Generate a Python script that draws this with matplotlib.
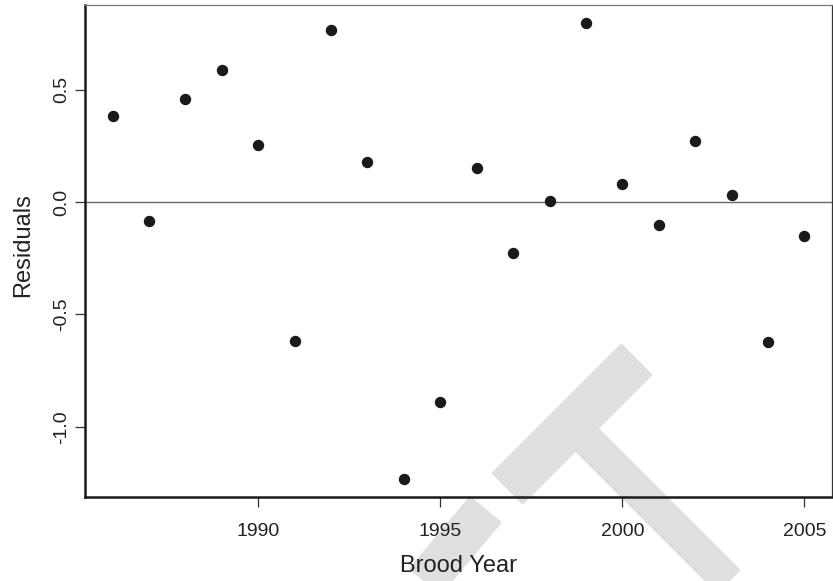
import matplotlib
matplotlib.use("Agg")
import matplotlib.pyplot as plt
from matplotlib.lines import Line2D

# Data
years = [1986, 1987, 1988, 1989, 1990, 1991, 1992, 1993, 1994, 1995,
         1996, 1997, 1998, 1999, 2000, 2001, 2002, 2003, 2004, 2005]
residuals = [0.386, -0.083, 0.460, 0.588, 0.253, -0.619, 0.769, 0.178, -1.232, -0.888,
             0.150, -0.228, 0.003, 0.797, 0.079, -0.103, 0.272, 0.033, -0.625, -0.149]
xticks = [1990, 1995, 2000, 2005]
yticks = [-1.0, -0.5, 0.0, 0.5]
ytick_labels = ["-1.0", "-0.5", "0.0", "0.5"]

plt.rcParams['font.family'] = ['Liberation Sans', 'DejaVu Sans']

W, H = 833, 581
fig = plt.figure(figsize=(W / 100, H / 100), dpi=100)

# Light gray watermark behind the plot (figure pixel coords -> fraction)
wm = "#dedfe1"
def px(x, y):
    return x / W, 1 - y / H
for (x0, y0), (x1, y1), lw in [((507, 489), (637, 359), 32),
                               ((566, 419), (745, 598), 24),
                               ((486, 509), (413, 596), 30)]:
    a, b = px(x0, y0)
    c, d = px(x1, y1)
    fig.add_artist(Line2D([a, c], [b, d], transform=fig.transFigure,
                          color=wm, lw=lw, solid_capstyle='butt', zorder=-5))

ax = fig.add_axes([85 / W, 1 - 497 / H, (832 - 85) / W, (497 - 5) / H])
ax.set_facecolor('none')
ax.set_zorder(1)

ax.plot(years, residuals, 'o', color='#1a1a1a', markersize=7.2, zorder=3)
ax.axhline(0, color='#6a6a6a', lw=1.0, zorder=2)

pad_x = (max(years) - min(years)) * 0.04
pad_y = (max(residuals) - min(residuals)) * 0.04
ax.set_xlim(min(years) - pad_x, max(years) + pad_x)
ax.set_ylim(min(residuals) - pad_y, max(residuals) + pad_y)

ax.set_xticks(xticks)
ax.set_xticklabels([str(t) for t in xticks])
ax.set_yticks(yticks)
ax.set_yticklabels(ytick_labels, rotation=90, va='center')

ax.tick_params(axis='both', length=7, width=0.9, color='#333333',
               labelsize=14, labelcolor='#222222')
ax.tick_params(axis='x', pad=12)
ax.tick_params(axis='y', pad=3.5)

for s in ['left', 'bottom']:
    ax.spines[s].set_linewidth(1.8)
    ax.spines[s].set_color('#1a1a1a')
ax.spines['top'].set_linewidth(0.9)
ax.spines['top'].set_color('#777777')
ax.spines['right'].set_linewidth(0.9)
ax.spines['right'].set_color('#333333')

ax.set_xlabel('Brood Year', fontsize=17, color='#222222')
ax.set_ylabel('Residuals', fontsize=17, color='#222222')
ax.xaxis.label.set_va('center')
ax.yaxis.label.set_va('center')
ax.xaxis.set_label_coords(0.5, -(566 - 497) / 492)
ax.yaxis.set_label_coords(-(85 - 23) / 747, 0.512)

fig.savefig('out.png', dpi=100)
